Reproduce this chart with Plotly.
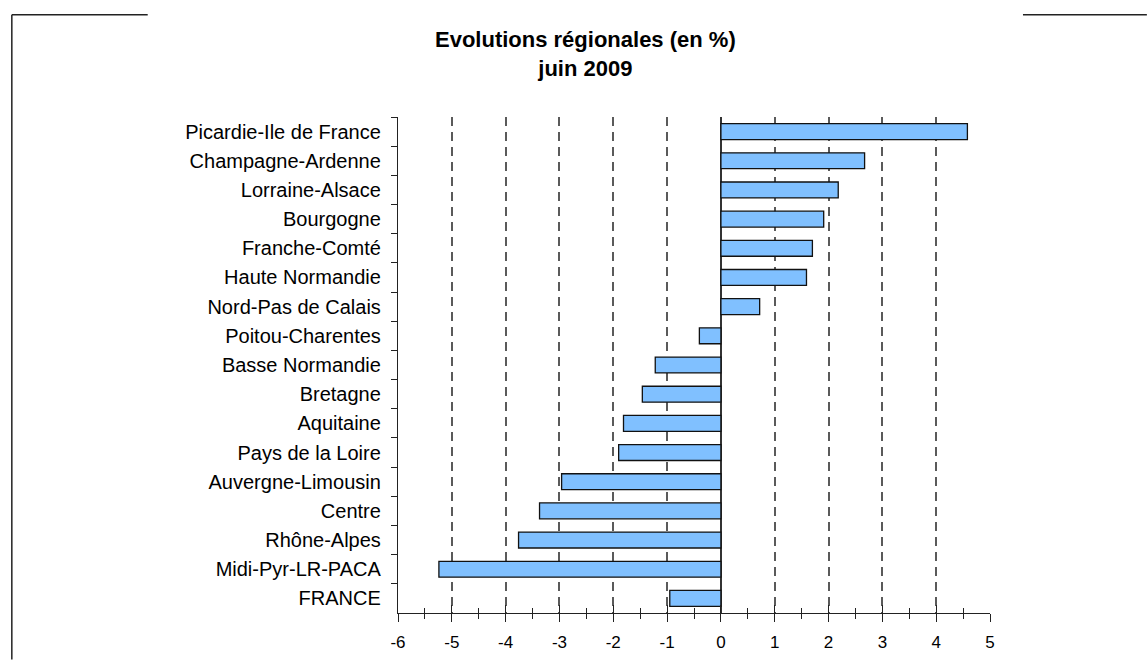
import plotly.graph_objects as go

regions = ["Picardie-Ile de France", "Champagne-Ardenne", "Lorraine-Alsace", "Bourgogne",
           "Franche-Comté", "Haute Normandie", "Nord-Pas de Calais", "Poitou-Charentes",
           "Basse Normandie", "Bretagne", "Aquitaine", "Pays de la Loire",
           "Auvergne-Limousin", "Centre", "Rhône-Alpes", "Midi-Pyr-LR-PACA", "FRANCE"]
evolution = [4.58, 2.67, 2.18, 1.91, 1.70, 1.59, 0.72, -0.40, -1.22, -1.46, -1.81, -1.90,
             -2.96, -3.37, -3.76, -5.24, -0.95]
x_ticks = [-6, -5, -4, -3, -2, -1, 0, 1, 2, 3, 4, 5]
grid_ticks = [-5, -4, -3, -2, -1, 1, 2, 3, 4]
title_line1 = "Evolutions régionales (en %)"
title_line2 = "juin 2009"

FONT = "Liberation Sans, Arial, sans-serif"
W, H = 1147, 664
L, R, T, B = 397.5, 990, 117, 617

def px(xp):
    return (xp - L) / (R - L)

def py(yp):
    return (B - yp) / (B - T)

fig = go.Figure()
fig.add_trace(go.Bar(
    x=evolution, y=regions, orientation="h",
    marker=dict(color="#80C0FF", line=dict(color="#111111", width=1.3)),
    xaxis="x", yaxis="y", showlegend=False, hoverinfo="x+y",
))
# invisible helpers so the overlay axes are drawn
for ax in ["x2", "x3"]:
    fig.add_trace(go.Scatter(
        x=evolution, y=regions, mode="markers", marker=dict(opacity=0, size=1),
        xaxis=ax, yaxis="y", showlegend=False, hoverinfo="skip",
    ))

fig.update_layout(
    width=W, height=H,
    margin=dict(l=L, r=W - R, t=T, b=H - B, pad=0),
    paper_bgcolor="white", plot_bgcolor="white",
    font=dict(family=FONT, color="black"),
    bargap=0.455,
    xaxis=dict(
        range=[-6, 5], tickvals=grid_ticks, showticklabels=False, ticks="",
        showgrid=True, gridcolor="#5a5a5a", gridwidth=1.5, griddash="9px,6px",
        zeroline=True, zerolinecolor="#333333", zerolinewidth=1.5,
        showline=False, fixedrange=True,
    ),
    xaxis2=dict(
        overlaying="x", matches="x", anchor="y", side="bottom",
        tickvals=x_ticks, ticktext=[str(v) for v in x_ticks],
        ticks="outside", ticklen=8, tickwidth=1.3, tickcolor="#222222",
        minor=dict(dtick=0.5, tick0=-6, ticks="outside", ticklen=5, tickwidth=1.3,
                   tickcolor="#222222", showgrid=False),
        showline=True, linecolor="#222222", linewidth=1.3,
        showgrid=False, zeroline=False,
        tickfont=dict(size=17, family=FONT, color="black"),
        ticklabelstandoff=5,
    ),
    xaxis3=dict(
        overlaying="x", matches="x", anchor="y", side="bottom",
        tickvals=x_ticks, showticklabels=False,
        ticks="inside", ticklen=8, tickwidth=1.3, tickcolor="#222222",
        minor=dict(dtick=0.5, tick0=-6, ticks="inside", ticklen=5, tickwidth=1.3,
                   tickcolor="#222222", showgrid=False),
        showline=False, showgrid=False, zeroline=False,
    ),
    yaxis=dict(
        type="category", range=[len(regions) - 0.5, -0.5], autorange=False,
        tickson="boundaries", ticks="outside", ticklen=6, tickwidth=1.3,
        tickcolor="#222222", showline=True, linecolor="#222222", linewidth=1.3,
        showgrid=False, zeroline=False,
        tickfont=dict(size=20, family=FONT, color="black"),
        ticklabelstandoff=12, fixedrange=True,
    ),
    annotations=[
        dict(text="<b>" + title_line1 + "</b><br><b>" + title_line2 + "</b>",
             xref="paper", yref="paper",
             x=px(585), y=py(53.5), xanchor="center", yanchor="middle", showarrow=False,
             font=dict(size=22, family=FONT, color="black")),
    ],
    shapes=[
        dict(type="line", xref="paper", yref="paper", x0=px(11), x1=px(147),
             y0=py(14), y1=py(14), line=dict(color="#222222", width=1.5)),
        dict(type="line", xref="paper", yref="paper", x0=px(1023), x1=px(1147),
             y0=py(14), y1=py(14), line=dict(color="#222222", width=1.5)),
        dict(type="line", xref="paper", yref="paper", x0=px(11), x1=px(11),
             y0=py(14), y1=py(664), line=dict(color="#222222", width=1.5)),
    ],
)

fig.write_html("out.html", config={"displayModeBar": False},
               post_script="document.body.style.margin='0';document.body.style.overflow='hidden';")
